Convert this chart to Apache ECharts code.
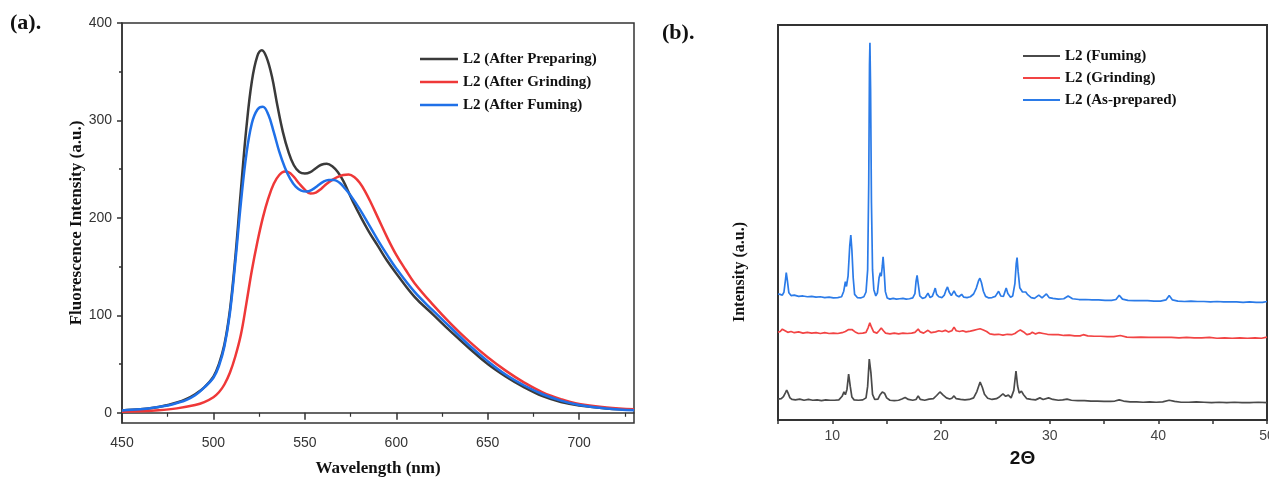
<!DOCTYPE html>
<html>
<head>
<meta charset="utf-8">
<script src="https://cdn.jsdelivr.net/npm/echarts@6/dist/echarts.min.js"></script>
<style>
  html, body { margin: 0; padding: 0; background: #ffffff; }
  #chart { width: 1269px; height: 479px; }
</style>
</head>
<body>
<div id="chart"></div>
<script>
// ---- (a) Fluorescence spectra: [wavelength (nm), intensity (a.u.)] ----
const plAfterPreparing = [
  [450,2.4],[460,3.5],[470,6],[475,8],[480,10.5],[485,14],[490,19],[495,26],[500,37],[503,50],
  [506,70],[509,105],[512,160],[515,228],[518,292],[521,340],[524,366],[526.5,372],[529,365],
  [532,345],[535,315],[538,288],[541,268],[544,254],[547,247],[550,245.5],[553,247],[556,251],
  [559,254.5],[562,255.5],[565,253],[568,247],[571,238],[574,226],[577,214],[580,203],[585,186],
  [590,171],[595,156],[600,143],[610,119],[620,101],[630,83],[640,66],[650,50],[660,37],[670,26],
  [680,17],[690,11],[700,7.5],[715,4.5],[730,3]
];
const plAfterGrinding = [
  [450,1],[460,1.5],[470,2.5],[480,4.5],[490,8],[495,11],[500,16],[503,21],[506,29],[509,41],
  [512,58],[515,80],[518,112],[521,146],[524,175],[527,200],[530,220],[533,235],[536,244],
  [539,247.5],[541,247],[544,242],[547,235],[550,229],[553,225],[556,226],[559,230],[562,235],
  [565,239],[568,242],[571,244],[574,244.5],[577,242],[580,236],[583,227],[586,216],[590,200],
  [595,180],[600,162],[605,147],[610,133],[620,111],[630,91],[640,73],[650,57],[660,43],[670,31],
  [680,21],[690,14],[700,9],[715,5.5],[730,3.5]
];
const plAfterFuming = [
  [450,2.4],[460,3.5],[470,6],[475,7.5],[480,10],[485,13],[490,18],[495,26],[500,36],[503,48],
  [506,68],[509,102],[512,155],[515,215],[518,265],[521,297],[524,311],[527,314],[530,306],
  [533,288],[536,268],[539,252],[542,240],[545,232],[548,228],[551,227],[554,229],[557,233],
  [560,237],[563,239],[566,239],[569,236],[572,230],[575,223],[580,209],[585,193],[590,177],
  [595,162],[600,148],[610,124],[620,105],[630,87],[640,69],[650,53],[660,39],[670,28],[680,19],
  [690,12.5],[700,8],[715,4.5],[730,2.5]
];

// ---- (b) PXRD patterns, stacked: [2θ (deg), intensity (a.u.)] ----
const xrdFuming = [
  [5.0,5.3],[5.3,5.4],[5.5,5.9],[5.7,7.0],[5.8,7.6],[5.9,7.0],[6.1,5.6],[6.3,5.2],[6.6,5.1],[7.0,5.3],
  [7.4,5.0],[7.8,5.2],[8.2,5.0],[8.6,5.1],[9.0,4.9],[9.4,5.1],[9.8,5.0],[10.2,5.0],[10.6,5.1],[10.9,6.0],
  [11.07,7.1],[11.2,6.4],[11.35,7.8],[11.5,11.6],[11.65,8.5],[11.8,5.8],[12.0,5.1],[12.4,5.0],[12.8,5.1],
  [13.1,5.6],[13.25,8.5],[13.4,15.4],[13.55,12.0],[13.7,6.5],[13.9,5.2],[14.2,5.3],[14.4,6.4],[14.6,7.1],
  [14.8,6.8],[15.0,5.6],[15.3,5.0],[15.7,4.9],[16.1,5.0],[16.4,5.3],[16.7,5.7],[17.0,5.2],[17.4,5.0],
  [17.7,5.2],[17.9,6.1],[18.1,5.2],[18.5,5.0],[18.9,5.3],[19.3,5.4],[19.6,6.2],[19.9,7.1],[20.2,6.3],
  [20.5,5.6],[20.8,5.3],[21.0,5.5],[21.2,6.1],[21.4,5.4],[21.8,5.2],[22.2,5.1],[22.6,5.2],[23.0,5.6],
  [23.3,7.2],[23.6,9.6],[23.8,8.3],[24.0,6.5],[24.3,5.5],[24.7,5.2],[25.1,5.4],[25.4,5.9],[25.7,6.6],
  [25.95,6.0],[26.2,6.3],[26.45,5.6],[26.7,7.5],[26.9,12.4],[27.05,8.6],[27.2,6.8],[27.4,7.3],[27.6,6.4],
  [27.9,5.4],[28.3,5.2],[28.7,5.1],[29.1,5.6],[29.4,5.2],[29.9,5.6],[30.3,5.2],[30.8,5.0],[31.2,5.1],
  [31.6,5.3],[32.0,5.0],[32.6,4.9],[33.2,4.9],[33.8,4.8],[34.4,4.8],[35.0,4.7],[35.6,4.7],[36.0,4.8],
  [36.4,5.1],[36.8,4.8],[37.4,4.6],[38.0,4.6],[38.6,4.5],[39.2,4.6],[39.8,4.5],[40.4,4.6],[41.0,5.0],
  [41.5,4.7],[42.1,4.5],[42.8,4.5],[43.5,4.6],[44.2,4.5],[44.9,4.4],[45.6,4.5],[46.3,4.4],[47.0,4.5],
  [47.7,4.4],[48.4,4.4],[49.2,4.5],[50.0,4.4]
];
const xrdGrinding = [
  [5.0,22.2],[5.2,22.4],[5.4,23.0],[5.5,23.4],[5.65,22.6],[5.9,22.2],[6.2,22.4],[6.5,22.1],[6.9,22.3],
  [7.3,22.0],[7.7,22.2],[8.1,22.0],[8.5,22.1],[8.9,21.9],[9.3,22.1],[9.7,21.9],[10.1,22.0],[10.5,21.9],
  [10.9,22.1],[11.2,22.4],[11.5,22.9],[11.8,22.9],[12.1,22.3],[12.4,21.9],[12.8,22.0],[13.1,22.2],
  [13.3,23.4],[13.45,24.6],[13.6,23.5],[13.8,22.3],[14.1,22.0],[14.3,22.6],[14.5,23.3],[14.7,22.6],
  [14.9,22.0],[15.3,21.8],[15.7,22.0],[16.1,21.8],[16.5,22.0],[16.9,21.9],[17.3,22.0],[17.6,22.2],
  [17.9,23.0],[18.1,22.3],[18.4,22.0],[18.8,22.7],[19.1,22.1],[19.5,22.3],[19.8,22.6],[20.1,22.4],
  [20.4,22.7],[20.7,22.3],[21.0,22.6],[21.2,23.5],[21.4,22.6],[21.7,22.4],[22.0,22.6],[22.3,22.3],
  [22.7,22.5],[23.0,22.7],[23.3,22.9],[23.6,23.1],[23.9,22.8],[24.2,22.4],[24.5,21.8],[24.9,21.6],
  [25.3,21.7],[25.7,21.5],[26.1,21.7],[26.5,21.6],[26.8,21.9],[27.1,22.5],[27.3,22.8],[27.6,22.3],
  [27.9,21.6],[28.2,21.8],[28.4,22.2],[28.7,21.8],[29.0,22.1],[29.4,21.9],[29.8,21.7],[30.3,21.6],
  [30.8,21.6],[31.3,21.4],[31.8,21.5],[32.3,21.3],[32.8,21.3],[33.1,21.6],[33.5,21.3],[34.1,21.2],
  [34.7,21.2],[35.3,21.1],[35.9,21.1],[36.5,21.4],[37.1,21.0],[37.7,20.9],[38.4,21.0],[39.1,20.9],
  [39.8,20.9],[40.5,20.9],[41.2,20.9],[41.9,20.8],[42.6,20.9],[43.3,20.8],[44.0,20.8],[44.7,20.9],
  [45.4,20.7],[46.1,20.8],[46.8,20.7],[47.5,20.8],[48.2,20.7],[48.9,20.8],[49.5,20.7],[50.0,21.0]
];
const xrdAsPrepared = [
  [5.0,31.9],[5.2,31.8],[5.4,31.6],[5.55,32.4],[5.7,35.8],[5.76,37.3],[5.85,35.6],[6.0,32.2],[6.2,31.5],
  [6.5,31.6],[6.9,31.3],[7.3,31.4],[7.7,31.2],[8.1,31.3],[8.5,31.1],[8.9,31.2],[9.3,31.0],[9.7,31.1],
  [10.1,30.9],[10.5,31.0],[10.85,31.2],[11.05,32.6],[11.2,35.0],[11.3,33.8],[11.45,36.5],[11.6,44.0],
  [11.7,46.8],[11.8,43.0],[11.92,36.0],[12.05,31.8],[12.3,31.0],[12.6,30.9],[12.9,31.2],[13.1,32.4],
  [13.25,38.0],[13.35,60.0],[13.42,90.0],[13.46,95.5],[13.52,84.0],[13.6,55.0],[13.7,38.0],[13.82,33.0],
  [14.0,31.4],[14.15,32.2],[14.3,36.0],[14.42,37.3],[14.5,36.4],[14.6,39.0],[14.67,41.3],[14.76,38.0],
  [14.88,32.5],[15.05,30.9],[15.3,30.6],[15.6,30.8],[15.9,30.6],[16.2,30.7],[16.5,30.8],[16.8,30.6],
  [17.1,30.7],[17.4,30.9],[17.6,32.0],[17.7,35.0],[17.8,36.6],[17.9,34.5],[18.05,31.4],[18.3,30.8],
  [18.55,31.0],[18.8,32.1],[19.0,31.0],[19.2,31.3],[19.35,32.4],[19.47,33.4],[19.6,31.8],[19.8,31.2],
  [20.1,31.0],[20.3,31.6],[20.45,32.8],[20.6,33.7],[20.75,32.4],[20.95,31.5],[21.2,32.7],[21.4,31.6],
  [21.65,31.2],[21.9,31.8],[22.1,31.1],[22.4,31.0],[22.7,31.2],[23.0,31.9],[23.25,33.4],[23.45,35.2],
  [23.58,35.9],[23.72,34.8],[23.9,32.6],[24.1,31.3],[24.4,30.9],[24.7,31.0],[25.0,31.3],[25.3,32.6],
  [25.5,31.4],[25.75,31.3],[25.9,32.6],[26.0,33.4],[26.15,32.0],[26.4,31.1],[26.6,31.4],[26.8,34.5],
  [26.92,39.5],[27.0,41.1],[27.1,37.5],[27.25,33.5],[27.36,33.7],[27.5,32.4],[27.65,32.0],[27.8,32.4],
  [27.95,31.8],[28.1,32.1],[28.3,31.0],[28.6,30.8],[29.0,31.6],[29.3,30.9],[29.7,31.9],[29.95,31.0],
  [30.3,30.8],[30.8,30.6],[31.3,30.7],[31.7,31.4],[32.1,30.7],[32.7,30.5],[33.3,30.5],[33.9,30.4],
  [34.5,30.4],[35.1,30.3],[35.7,30.3],[36.1,30.5],[36.4,31.6],[36.7,30.6],[37.2,30.3],[37.8,30.2],
  [38.4,30.2],[39.0,30.2],[39.6,30.1],[40.2,30.1],[40.7,30.4],[41.0,31.5],[41.3,30.4],[41.8,30.1],
  [42.4,30.0],[43.0,30.1],[43.6,30.0],[44.2,30.0],[44.8,29.9],[45.4,30.0],[46.0,29.9],[46.6,29.9],
  [47.2,29.9],[47.8,29.8],[48.4,29.9],[49.0,29.8],[49.6,29.8],[50.0,30.0]
];

// ---- tick positions ----
const plIntensityTicks = [0, 100, 200, 300, 400];
const plIntensityMinorTicks = [50, 150, 250, 350];
const plWavelengthTicks = [450, 500, 550, 600, 650, 700];
const xrdAngleLabels = [10, 20, 30, 40, 50];

const serif = '"Liberation Serif", "Times New Roman", serif';
const sans = '"Liberation Sans", Arial, sans-serif';
const axisColor = '#333333';

const chart = echarts.init(document.getElementById('chart'), null, { renderer: 'canvas' });

const option = {
  animation: false,
  backgroundColor: '#ffffff',
  grid: [
    { left: 122, top: 23, width: 512, height: 400, show: true, borderColor: axisColor, borderWidth: 1.5,
      containLabel: false, outerBoundsMode: 'none' },
    { left: 778, top: 25, width: 489, height: 395, show: true, borderColor: axisColor, borderWidth: 2,
      containLabel: false, outerBoundsMode: 'none' }
  ],
  xAxis: [
    {
      gridIndex: 0, type: 'value', min: 450, max: 730, interval: 50,
      axisLine: { show: true, lineStyle: { color: axisColor, width: 1.5 } },
      axisTick: { show: true, length: 7, customValues: plWavelengthTicks, lineStyle: { color: axisColor, width: 1.5 } },
      minorTick: { show: true, splitNumber: 2, length: 4, lineStyle: { color: axisColor, width: 1.2 } },
      splitLine: { show: false },
      axisLabel: { margin: 13, customValues: plWavelengthTicks, fontFamily: sans, fontSize: 14, color: axisColor },
      name: 'Wavelength (nm)', nameLocation: 'middle', nameGap: 37,
      nameTextStyle: { fontFamily: serif, fontWeight: 'bold', fontSize: 17, color: '#111111' }
    },
    {
      gridIndex: 1, type: 'value', min: 5, max: 50, interval: 5,
      axisLine: { show: true, lineStyle: { color: axisColor, width: 2 } },
      axisTick: { show: true, length: 4, lineStyle: { color: axisColor, width: 1.5 } },
      splitLine: { show: false },
      axisLabel: { margin: 9, customValues: xrdAngleLabels, fontFamily: sans, fontSize: 14, color: '#444444' },
      name: '2\u0398', nameLocation: 'middle', nameGap: 29,
      nameTextStyle: { fontFamily: sans, fontWeight: 'bold', fontSize: 19, color: '#111111' }
    }
  ],
  yAxis: [
    {
      gridIndex: 0, type: 'value', min: -10.5, max: 400,
      axisLine: { show: true, lineStyle: { color: axisColor, width: 1.5 } },
      axisTick: { show: true, length: 5, customValues: plIntensityTicks, lineStyle: { color: axisColor, width: 1.5 } },
      splitLine: { show: false },
      axisLabel: { margin: 10, customValues: plIntensityTicks, fontFamily: sans, fontSize: 14, color: axisColor },
      name: 'Fluorescence Intensity (a.u.)', nameLocation: 'middle', nameGap: 36,
      nameTextStyle: { fontFamily: serif, fontWeight: 'bold', fontSize: 17, color: '#111111' }
    },
    {
      // minor ticks on the intensity axis
      gridIndex: 0, type: 'value', min: -10.5, max: 400, position: 'left',
      axisLine: { show: false },
      axisTick: { show: true, length: 3, customValues: plIntensityMinorTicks, lineStyle: { color: axisColor, width: 1.5 } },
      axisLabel: { show: false },
      splitLine: { show: false }
    },
    {
      gridIndex: 1, type: 'value', min: 0, max: 100,
      axisLine: { show: true, lineStyle: { color: axisColor, width: 2 } },
      axisTick: { show: false },
      axisLabel: { show: false },
      splitLine: { show: false }
    }
  ],
  legend: [
    {
      data: ['L2 (After Preparing)', 'L2 (After Grinding)', 'L2 (After Fuming)'],
      orient: 'vertical', left: 415, top: 46, icon: 'rect', itemWidth: 38, itemHeight: 2.5, itemGap: 7,
      textStyle: { fontFamily: serif, fontWeight: 'bold', fontSize: 15, lineHeight: 16, color: '#111111' }
    },
    {
      data: ['L2 (Fuming)', 'L2 (Grinding)', 'L2 (As-prepared)'],
      orient: 'vertical', left: 1018, top: 43, icon: 'rect', itemWidth: 37, itemHeight: 2, itemGap: 6,
      textStyle: { fontFamily: serif, fontWeight: 'bold', fontSize: 15, lineHeight: 16, color: '#111111' }
    }
  ],
  graphic: [
    { type: 'text', left: 10, top: 12, style: { text: '(a).', font: 'bold 22px ' + serif, fill: '#111111' } },
    { type: 'text', left: 662, top: 22, style: { text: '(b).', font: 'bold 22px ' + serif, fill: '#111111' } },
    {
      type: 'text', x: 740, y: 272, rotation: Math.PI / 2,
      style: { text: 'Intensity (a.u.)', font: 'bold 16px ' + serif, fill: '#111111', align: 'center', verticalAlign: 'middle' }
    }
  ],
  series: [
    { name: 'L2 (After Preparing)', type: 'line', xAxisIndex: 0, yAxisIndex: 0, data: plAfterPreparing,
      smooth: 0.4, showSymbol: false, lineStyle: { color: '#3a3a3a', width: 2.5 }, itemStyle: { color: '#3a3a3a' } },
    { name: 'L2 (After Grinding)', type: 'line', xAxisIndex: 0, yAxisIndex: 0, data: plAfterGrinding,
      smooth: 0.4, showSymbol: false, lineStyle: { color: '#ef3838', width: 2.5 }, itemStyle: { color: '#ef3838' } },
    { name: 'L2 (After Fuming)', type: 'line', xAxisIndex: 0, yAxisIndex: 0, data: plAfterFuming,
      smooth: 0.4, showSymbol: false, lineStyle: { color: '#1f70e8', width: 2.5 }, itemStyle: { color: '#1f70e8' } },

    { name: 'L2 (Fuming)', type: 'line', xAxisIndex: 1, yAxisIndex: 2, data: xrdFuming,
      showSymbol: false, lineStyle: { color: '#4a4a4a', width: 1.7 }, itemStyle: { color: '#4a4a4a' } },
    { name: 'L2 (Grinding)', type: 'line', xAxisIndex: 1, yAxisIndex: 2, data: xrdGrinding,
      showSymbol: false, lineStyle: { color: '#f24444', width: 1.7 }, itemStyle: { color: '#f24444' } },
    { name: 'L2 (As-prepared)', type: 'line', xAxisIndex: 1, yAxisIndex: 2, data: xrdAsPrepared,
      showSymbol: false, lineStyle: { color: '#2b7be8', width: 1.7 }, itemStyle: { color: '#2b7be8' } }
  ]
};

chart.setOption(option);
</script>
</body>
</html>
